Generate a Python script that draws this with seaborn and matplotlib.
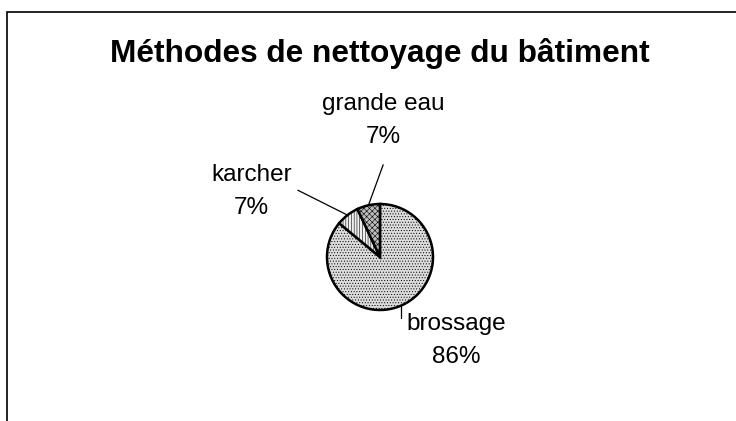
import numpy as np
import seaborn as sns
import matplotlib.pyplot as plt
from matplotlib.patches import Rectangle

sns.set_theme(style="white")
plt.rcParams['font.family'] = ['Liberation Sans', 'DejaVu Sans']
plt.rcParams['hatch.linewidth'] = 0.4
plt.rcParams['text.color'] = 'black'

# data
methods = ["brossage", "karcher", "grande eau"]
shares = [86, 7, 7]
pct_labels = ["86%", "7%", "7%"]

colors = ["#dcdcdc", "#eeeeee", "#bdbdbd"]
hatches = ["......", "||||||", "xxxxxx"]
label_pos = [(1.43, -1.58), (-2.42, 1.23), (0.06, 2.57)]
leader_end = [(0.40, -1.15), (-1.55, 1.26), (0.06, 1.74)]

fig = plt.figure(figsize=(7.36, 4.21), dpi=100)
fig.patch.set_facecolor("white")

# chart frame (cut at right and bottom)
fig.patches.append(Rectangle((7 / 736, -0.1), 1.2, 1.1 - 12 / 421,
                             transform=fig.transFigure, fill=False,
                             edgecolor="black", linewidth=1.2))

fig.text(380 / 736, 1 - 62 / 421, "Méthodes de nettoyage du bâtiment",
         ha="center", va="baseline", fontsize=22.8, fontweight="bold")

ax = fig.add_axes([327 / 736, 111 / 421, 106 / 736, 106 / 421])
wedges, _ = ax.pie(shares, startangle=90, counterclock=False, colors=colors,
                   wedgeprops=dict(edgecolor="black", linewidth=1.8))
for w, h in zip(wedges, hatches):
    w.set_hatch(h)
ax.set_xlim(-1, 1)
ax.set_ylim(-1, 1)
ax.set_aspect("equal")
ax.axis("off")

for w, name, pct, (tx, ty), (lx, ly) in zip(wedges, methods, pct_labels, label_pos, leader_end):
    mid = np.deg2rad((w.theta1 + w.theta2) / 2)
    ex, ey = np.cos(mid), np.sin(mid)
    if name == "brossage":
        ex, ey = lx, -np.sqrt(1 - lx ** 2)
    ax.plot([ex, lx], [ey, ly], color="black", linewidth=0.9, clip_on=False)
    ax.text(tx, ty, f"{name}\n{pct}", ha="center", va="center",
            fontsize=17.5, linespacing=1.65, clip_on=False)

fig.savefig("out.png", dpi=100, facecolor="white")
